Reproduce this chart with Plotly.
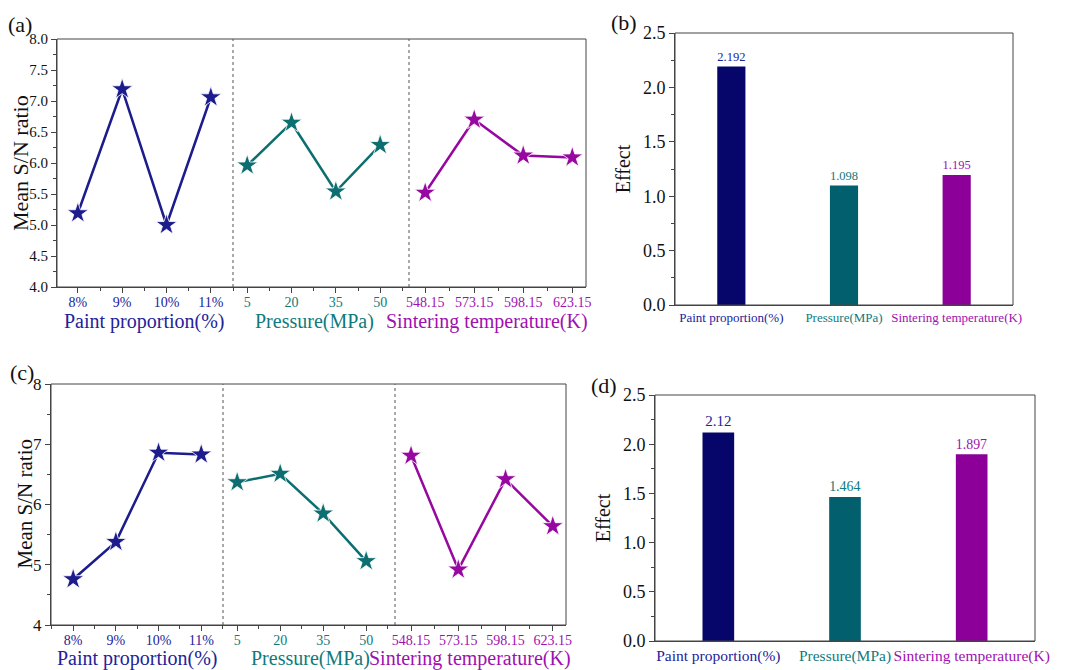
import plotly.graph_objects as go

# ---------------- data ----------------
levels_paint = ["8%", "9%", "10%", "11%"]
levels_pressure = ["5", "20", "35", "50"]
levels_temp = ["548.15", "573.15", "598.15", "623.15"]

sn_a_paint = [5.19, 7.19, 5.00, 7.06]
sn_a_pressure = [5.96, 6.65, 5.54, 6.29]
sn_a_temp = [5.52, 6.70, 6.12, 6.09]

sn_c_paint = [4.76, 5.38, 6.86, 6.83]
sn_c_pressure = [6.37, 6.51, 5.85, 5.06]
sn_c_temp = [6.81, 4.92, 6.42, 5.64]

factors = ["Paint proportion(%)", "Pressure(MPa)", "Sintering temperature(K)"]
effect_b = [2.192, 1.098, 1.195]
effect_d = [2.12, 1.464, 1.897]

# ---------------- style ----------------
W, H = 1069, 670
FONT = "Liberation Serif"
C_LINE = ["#1c1c8c", "#0c6e70", "#96089f"]
C_TEXT = ["#22229a", "#0f7a7c", "#a010b0"]
C_BAR = ["#06066a", "#02606e", "#8c0099"]
AX = "#444444"


def fx(px):
    return px / W


def fy(py):
    return 1 - py / H


fig = go.Figure()
layout = dict(template="none", width=W, height=H,
              margin=dict(l=0, r=0, t=0, b=0, autoexpand=False),
              paper_bgcolor="white", plot_bgcolor="white", showlegend=False,
              font=dict(family=FONT, color="#111111"))
shapes = []
annotations = []


def line_panel(xnames, yname, groups, xdoms, xranges, ydom, yrange, dtick, minor,
               fmt, tick_sz, title_sz, group_y, group_x, ytitle_x):
    levels_list = [levels_paint, levels_pressure, levels_temp]
    for i, (xn, vals) in enumerate(zip(xnames, groups)):
        lv = levels_list[i]
        fig.add_trace(go.Scatter(
            x=list(range(len(lv))), y=vals, mode="lines+markers",
            xaxis=xn, yaxis=yname, cliponaxis=False,
            line=dict(color=C_LINE[i], width=2.5),
            marker=dict(symbol="star", size=16, color=C_LINE[i],
                        line=dict(color="white", width=0.8))))
        key = "xaxis" + xn[1:]
        layout[key] = dict(
            domain=[fx(xdoms[i][0]), fx(xdoms[i][1])], anchor=yname,
            range=xranges[i], tickvals=list(range(len(lv))), ticktext=lv,
            automargin=False, ticklabelstandoff=-3,
            showline=True, linecolor=AX, linewidth=1, showgrid=False,
            zeroline=False, ticks="outside", ticklen=5, tickcolor=AX,
            minor=dict(ticks="outside", ticklen=3, dtick=0.5, tick0=0.5,
                       tickcolor=AX, showgrid=False),
            tickfont=dict(family=FONT, size=14, color=C_TEXT[i]))
        annotations.append(dict(
            text=factors[i], x=fx(group_x[i]), y=fy(group_y), xref="paper",
            yref="paper", showarrow=False, xanchor="center", yanchor="middle",
            font=dict(family=FONT, size=20, color=C_TEXT[i])))
    ykey = "yaxis" + yname[1:]
    layout[ykey] = dict(
        domain=[fy(ydom[1]), fy(ydom[0])], anchor=xnames[0], range=yrange,
        automargin=False,
        dtick=dtick, tickformat=fmt, showline=True, linecolor=AX, linewidth=1,
        showgrid=False, zeroline=False, ticks="outside", ticklen=5, tickcolor=AX,
        minor=dict(ticks="outside", ticklen=3, dtick=minor, tickcolor=AX,
                   showgrid=False),
        tickfont=dict(family=FONT, size=tick_sz, color="#111111"))
    annotations.append(dict(
        text="Mean S/N ratio", x=fx(ytitle_x), y=(fy(ydom[0]) + fy(ydom[1])) / 2,
        xref="paper", yref="paper", showarrow=False, textangle=-90,
        xanchor="center", yanchor="middle",
        font=dict(family=FONT, size=title_sz, color="#111111")))
    shapes.append(dict(type="rect", xref="paper", yref="paper",
                       x0=fx(xdoms[0][0]), x1=fx(xdoms[2][1]),
                       y0=fy(ydom[1]), y1=fy(ydom[0]),
                       line=dict(color=AX, width=1)))
    for d in (xdoms[1][0], xdoms[2][0]):
        shapes.append(dict(type="line", xref="paper", yref="paper",
                           x0=fx(d), x1=fx(d), y0=fy(ydom[1]), y1=fy(ydom[0]),
                           line=dict(color="#555555", width=1, dash="dot")))


def bar_panel(xname, yname, vals, xdom, ydom, tick_sz, cat_sz, val_sz):
    fig.add_trace(go.Bar(
        x=factors, y=vals, xaxis=xname, yaxis=yname, width=0.25,
        marker=dict(color=C_BAR, line=dict(width=0)),
        text=[f"{v:g}" for v in vals], textposition="outside",
        textfont=dict(family=FONT, size=val_sz, color=C_TEXT),
        cliponaxis=False))
    layout["xaxis" + xname[1:]] = dict(
        domain=[fx(xdom[0]), fx(xdom[1])], anchor=yname, type="category",
        tickvals=factors, tickangle=0, automargin=False,
        ticktext=[f"<span style='color:{c}'>{f}</span>" for f, c in zip(factors, C_TEXT)],
        showline=True, linecolor=AX, linewidth=1, showgrid=False, ticks="",
        tickfont=dict(family=FONT, size=cat_sz))
    layout["yaxis" + yname[1:]] = dict(
        domain=[fy(ydom[1]), fy(ydom[0])], anchor=xname, range=[0, 2.5],
        automargin=False,
        dtick=0.5, tickformat=".1f", showline=True, linecolor=AX, linewidth=1,
        showgrid=False, zeroline=False, ticks="outside", ticklen=5, tickcolor=AX,
        minor=dict(ticks="outside", ticklen=3, dtick=0.25, tickcolor=AX,
                   showgrid=False),
        tickfont=dict(family=FONT, size=tick_sz, color="#111111"),
        title=dict(text="Effect", font=dict(family=FONT, size=20, color="#111111"),
                   standoff=6))
    shapes.append(dict(type="rect", xref="paper", yref="paper",
                       x0=fx(xdom[0]), x1=fx(xdom[1]), y0=fy(ydom[1]), y1=fy(ydom[0]),
                       line=dict(color=AX, width=1)))


# panel (a)
line_panel(["x", "x2", "x3"], "y", [sn_a_paint, sn_a_pressure, sn_a_temp],
           [(57, 233), (233, 409), (409, 586)],
           [[-0.47, 3.5], [-0.32, 3.65], [-0.33, 3.28]],
           (39, 287), [4, 8], 0.5, 0.25, ".1f", 15, 22, 321, [144, 315, 487], 20)
# panel (c)
line_panel(["x5", "x6", "x7"], "y3", [sn_c_paint, sn_c_pressure, sn_c_temp],
           [(51, 223), (223, 395), (395, 566)],
           [[-0.52, 3.51], [-0.33, 3.67], [-0.34, 3.28]],
           (384, 625), [4, 8], 1, 0.5, "d", 17, 21, 658, [137, 310, 470], 24)
# panel (b)
bar_panel("x4", "y2", effect_b, (675, 1013), (33, 305), 18, 13, 14)
# panel (d)
bar_panel("x8", "y4", effect_d, (655, 1035), (395, 641), 18, 15.5, 15)

for lab, x, y in [("(a)", 20, 24), ("(b)", 624, 22), ("(c)", 22, 372), ("(d)", 604, 385)]:
    annotations.append(dict(text=lab, x=fx(x), y=fy(y), xref="paper", yref="paper",
                            showarrow=False, xanchor="center", yanchor="middle",
                            font=dict(family=FONT, size=22, color="#111111")))

layout["shapes"] = shapes
layout["annotations"] = annotations
fig.update_layout(**layout)
fig.write_html("out.html", config={"displayModeBar": False},
               post_script="document.body.style.margin='0px';"
                           "document.body.style.overflow='hidden';")
